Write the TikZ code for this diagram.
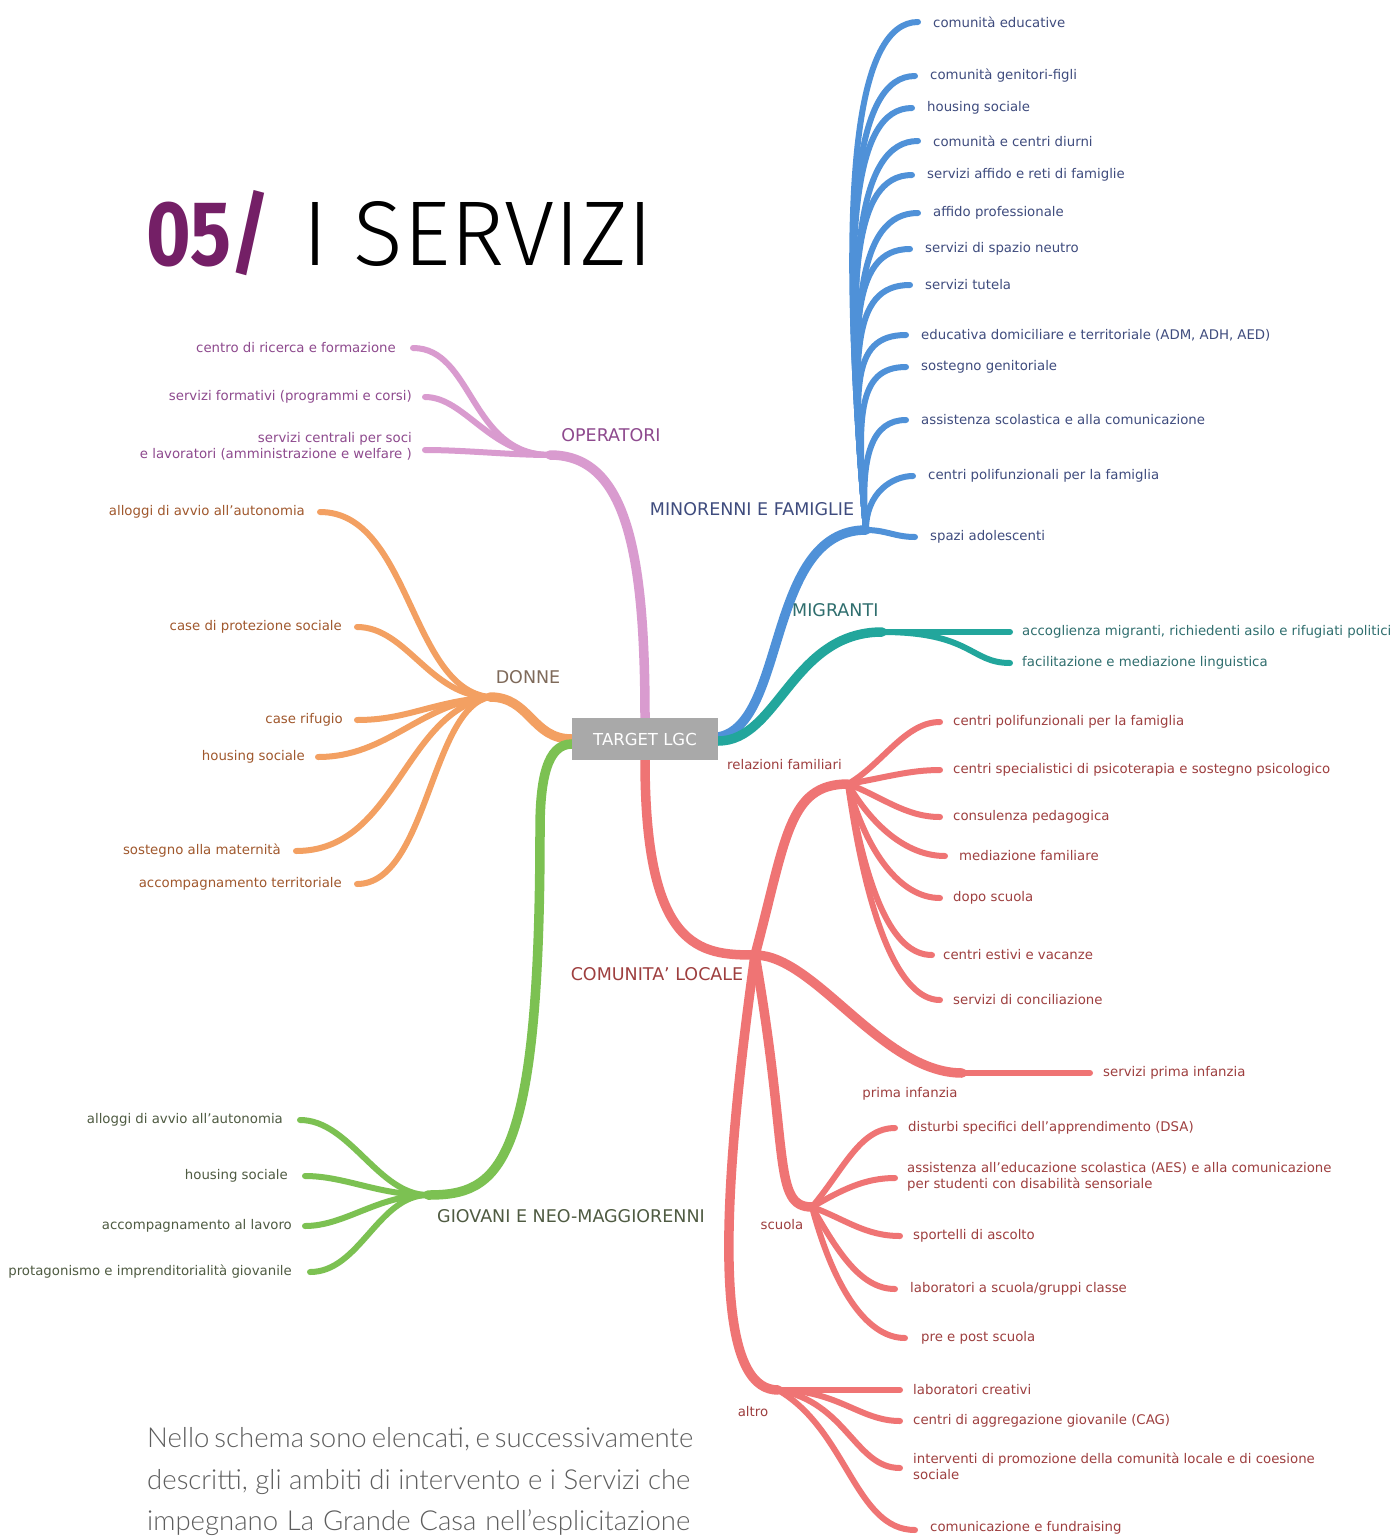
\documentclass[tikz,border=0pt]{standalone}
\usepackage{fontspec}
\setmainfont{DejaVu Sans}
\newfontfamily\titlefont{Fira Sans}
\IfFontExistsTF{Fira Sans Light}{\newfontfamily\titlelight{Fira Sans Light}}{\newfontfamily\titlelight{Fira Sans}}
\IfFontExistsTF{Lato Light}{\newfontfamily\captfont{Lato Light}}{\newfontfamily\captfont{Lato}}
\usetikzlibrary{calc,backgrounds}
\definecolor{cpur}{HTML}{D99BCF}
\definecolor{cblu}{HTML}{4F91D8}
\definecolor{ctea}{HTML}{22A69C}
\definecolor{cora}{HTML}{F3A062}
\definecolor{cred}{HTML}{EF7474}
\definecolor{cgre}{HTML}{7CC152}
\definecolor{tpur}{HTML}{8E4A8E}
\definecolor{tblu}{HTML}{3F4C7E}
\definecolor{ttea}{HTML}{2F6E6E}
\definecolor{tora}{HTML}{A0582D}
\definecolor{tred}{HTML}{9E3F3F}
\definecolor{tgre}{HTML}{4F5B42}
\definecolor{tdon}{HTML}{7F6A5A}
\definecolor{cbox}{HTML}{A9A9A9}
\definecolor{ctitle}{HTML}{741F66}
\definecolor{ccap}{HTML}{5E5E5E}
\newlength\capw
\begin{document}
\settowidth{\capw}{\captfont\fontsize{27}{27}\selectfont descritti, gli ambiti di intervento e i Servizi che}
\begin{tikzpicture}[x=1pt,y=1pt,
  twig/.style={line width=6pt,line cap=round},
  trunk/.style={line width=9.5pt,line cap=round},
  lf/.style={inner sep=0pt,font=\fontsize{13.3}{16}\selectfont},
  ct/.style={inner sep=0pt,font=\fontsize{17.5}{19}\selectfont},
  captext/.style={anchor=base west,inner sep=0pt,text=ccap,font=\captfont\fontsize{27}{27}\selectfont}]
\useasboundingbox (0,0) rectangle (1394,-1537);

% ---------- title ----------
\node[anchor=base west,inner sep=0pt,text=ctitle,font=\titlefont\bfseries\fontsize{92}{92}\selectfont] (num) at (146,-265) {\scalebox{0.83}[1]{05/}};
\node[anchor=base west,inner sep=0pt,font=\titlelight\fontsize{92}{92}\selectfont] (ttl) at (302,-265) {I SERVIZI};

% ---------- caption ----------
\node[captext] (cap1) at (147,-1447) {\resizebox{543pt}{!}{\makebox[\capw][s]{Nello schema sono elencati, e successivamente}}};
\node[captext] (cap2) at (147,-1489) {\resizebox{543pt}{!}{\makebox[\capw][s]{descritti, gli ambiti di intervento e i Servizi che}}};
\node[captext] (cap3) at (147,-1530) {\resizebox{543pt}{!}{\makebox[\capw][s]{impegnano La Grande Casa nell’esplicitazione}}};

% ---------- centre ----------
\node[fill=cbox,text=white,minimum width=146pt,minimum height=42pt,inner sep=0pt,font=\fontsize{16.5}{17}\selectfont] (T) at (645,-739) {TARGET LGC};

% ---------- junctions ----------
\coordinate (OP) at (550,-455);
\coordinate (MF) at (866,-530);
\coordinate (MI) at (882,-632);
\coordinate (DO) at (490,-697);
\coordinate (GI) at (428,-1195);
\coordinate (gk) at (540,-830);
\coordinate (CL) at (755,-955);
\coordinate (RF) at (848,-784);
\coordinate (PI) at (962,-1073);
\coordinate (SC) at (812,-1207);
\coordinate (AL) at (778,-1390);

% ---------- leaf ends ----------
\coordinate (b1) at (918,-22);  \coordinate (b2) at (915,-76);
\coordinate (b3) at (912,-108); \coordinate (b4) at (918,-141);
\coordinate (b5) at (912,-175); \coordinate (b6) at (918,-213);
\coordinate (b7) at (910,-249); \coordinate (b8) at (910,-285);
\coordinate (b9) at (906,-335); \coordinate (b10) at (906,-367);
\coordinate (b11) at (906,-420); \coordinate (b12) at (913,-476);
\coordinate (b13) at (915,-537);
\coordinate (m1) at (1010,-632); \coordinate (m2) at (1010,-663);
\coordinate (p1) at (413,-348); \coordinate (p2) at (425,-397); \coordinate (p3) at (425,-450);
\coordinate (o1) at (320,-512); \coordinate (o2) at (357,-627); \coordinate (o3) at (357,-720);
\coordinate (o4) at (318,-757); \coordinate (o5) at (296,-851); \coordinate (o6) at (357,-884);
\coordinate (g1) at (300,-1120); \coordinate (g2) at (305,-1176);
\coordinate (g3) at (305,-1226); \coordinate (g4) at (310,-1272);
\coordinate (r1) at (940,-722); \coordinate (r2) at (940,-770); \coordinate (r3) at (940,-817);
\coordinate (r4) at (945,-856); \coordinate (r5) at (940,-898); \coordinate (r6) at (932,-955);
\coordinate (r7) at (940,-1000);
\coordinate (pi1) at (1090,-1073);
\coordinate (s1) at (895,-1128); \coordinate (s2) at (895,-1178); \coordinate (s3) at (900,-1236);
\coordinate (s4) at (895,-1289); \coordinate (s5) at (905,-1338);
\coordinate (a1) at (900,-1390); \coordinate (a2) at (900,-1421);
\coordinate (a3) at (900,-1468); \coordinate (a4) at (915,-1530);

% ---------- category labels ----------
\node[ct,text=tpur] (lOP) at (611,-435) {OPERATORI};
\node[ct,text=tblu] (lMF) at (752,-509) {MINORENNI E FAMIGLIE};
\node[ct,text=ttea,anchor=west] (lMI) at (792,-610) {MIGRANTI};
\node[ct,text=tdon] (lDO) at (528,-677) {DONNE};
\node[ct,text=tred] (lCL) at (657,-974) {COMUNITA' LOCALE};
\node[ct,text=tgre] (lGI) at (571,-1216) {GIOVANI E NEO-MAGGIORENNI};
\node[lf,text=tred,anchor=west] (lRF) at (727,-765) {relazioni familiari};
\node[lf,text=tred] (lPI) at (910,-1094) {prima infanzia};
\node[lf,text=tred] (lSC) at (782,-1225) {scuola};
\node[lf,text=tred] (lAL) at (753,-1412) {altro};

% ---------- leaf labels ----------
\begin{scope}[every node/.style={lf,anchor=west,text=tblu}]
\node (lb1) at (933,-22) {comunità educative};
\node (lb2) at (930,-76) {comunità genitori-figli};
\node (lb3) at (927,-108) {housing sociale};
\node (lb4) at (933,-141) {comunità e centri diurni};
\node (lb5) at (927,-175) {servizi affido e reti di famiglie};
\node (lb6) at (933,-213) {affido professionale};
\node (lb7) at (925,-249) {servizi di spazio neutro};
\node (lb8) at (925,-285) {servizi tutela};
\node (lb9) at (921,-335) {educativa domiciliare e territoriale (ADM, ADH, AED)};
\node (lb10) at (921,-367) {sostegno genitoriale};
\node (lb11) at (921,-420) {assistenza scolastica e alla comunicazione};
\node (lb12) at (928,-476) {centri polifunzionali per la famiglia};
\node (lb13) at (930,-537) {spazi adolescenti};
\end{scope}
\begin{scope}[every node/.style={lf,anchor=west,text=ttea}]
\node (lm1) at (1022,-632) {accoglienza migranti, richiedenti asilo e rifugiati politici};
\node (lm2) at (1022,-663) {facilitazione e mediazione linguistica};
\end{scope}
\begin{scope}[every node/.style={lf,anchor=east,text=tpur,align=right}]
\node (lp1) at (396,-348) {centro di ricerca e formazione};
\node (lp2) at (412,-397) {servizi formativi (programmi e corsi)};
\node (lp3) at (412,-446) {servizi centrali per soci\\e lavoratori (amministrazione e welfare )};
\end{scope}
\begin{scope}[every node/.style={lf,anchor=east,text=tora}]
\node (lo1) at (305,-512) {alloggi di avvio all'autonomia};
\node (lo2) at (342,-627) {case di protezione sociale};
\node (lo3) at (343,-720) {case rifugio};
\node (lo4) at (305,-757) {housing sociale};
\node (lo5) at (281,-851) {sostegno alla maternità};
\node (lo6) at (342,-884) {accompagnamento territoriale};
\end{scope}
\begin{scope}[every node/.style={lf,anchor=east,text=tgre}]
\node (lg1) at (283,-1120) {alloggi di avvio all'autonomia};
\node (lg2) at (288,-1176) {housing sociale};
\node (lg3) at (292,-1226) {accompagnamento al lavoro};
\node (lg4) at (292,-1272) {protagonismo e imprenditorialità giovanile};
\end{scope}
\begin{scope}[every node/.style={lf,anchor=west,text=tred,align=left}]
\node (lr1) at (953,-722) {centri polifunzionali per la famiglia};
\node (lr2) at (953,-770) {centri specialistici di psicoterapia e sostegno psicologico};
\node (lr3) at (953,-817) {consulenza pedagogica};
\node (lr4) at (959,-856) {mediazione familiare};
\node (lr5) at (953,-898) {dopo scuola};
\node (lr6) at (943,-955) {centri estivi e vacanze};
\node (lr7) at (953,-1000) {servizi di conciliazione};
\node (lpi1) at (1103,-1073) {servizi prima infanzia};
\node (ls1) at (908,-1128) {disturbi specifici dell'apprendimento (DSA)};
\node (ls2) at (907,-1177) {assistenza all'educazione scolastica (AES) e alla comunicazione\\per studenti con disabilità sensoriale};
\node (ls3) at (913,-1236) {sportelli di ascolto};
\node (ls4) at (910,-1289) {laboratori a scuola/gruppi classe};
\node (ls5) at (921,-1338) {pre e post scuola};
\node (la1) at (913,-1390) {laboratori creativi};
\node (la2) at (913,-1421) {centri di aggregazione giovanile (CAG)};
\node (la3) at (913,-1466) {interventi di promozione della comunità locale e di coesione\\sociale};
\node (la4) at (930,-1528) {comunicazione e fundraising};
\end{scope}

% ---------- connectors ----------
\begin{pgfonlayer}{background}
\fill[white] (0,0) rectangle (1394,-1537);
% purple
\draw[trunk,cpur] (T.north) .. controls +(90:170) and +(0:75) .. (OP);
\draw[twig,cpur] (OP) .. controls +(180:80) and +(0:60) .. (p1);
\draw[twig,cpur] (OP) .. controls +(180:60) and +(0:40) .. (p2);
\draw[twig,cpur] (OP) .. controls +(180:40) and +(0:40) .. (p3);
% blue
\draw[trunk,cblu] ($(T.east)+(0,2)$) .. controls +(10:70) and +(180:100) .. (MF);
\draw[twig,cblu] (MF) .. controls +(95:356) and +(180:60) .. (b1);
\draw[twig,cblu] (MF) .. controls +(95:318) and +(180:60) .. (b2);
\draw[twig,cblu] (MF) .. controls +(95:295) and +(180:60) .. (b3);
\draw[twig,cblu] (MF) .. controls +(95:272) and +(180:60) .. (b4);
\draw[twig,cblu] (MF) .. controls +(95:249) and +(180:60) .. (b5);
\draw[twig,cblu] (MF) .. controls +(95:222) and +(180:60) .. (b6);
\draw[twig,cblu] (MF) .. controls +(95:197) and +(180:60) .. (b7);
\draw[twig,cblu] (MF) .. controls +(95:172) and +(180:60) .. (b8);
\draw[twig,cblu] (MF) .. controls +(95:137) and +(180:58) .. (b9);
\draw[twig,cblu] (MF) .. controls +(95:114) and +(180:49) .. (b10);
\draw[twig,cblu] (MF) .. controls +(95:77) and +(180:33) .. (b11);
\draw[twig,cblu] (MF) .. controls +(90:38) and +(180:20) .. (b12);
\draw[twig,cblu] (MF) .. controls +(0:20) and +(180:20) .. (b13);
% teal
\draw[trunk,ctea] ($(T.east)+(0,-2)$) .. controls +(0:60) and +(180:90) .. (MI);
\draw[twig,ctea] (MI) -- (m1);
\draw[twig,ctea] (MI) .. controls +(0:90) and +(180:40) .. (m2);
% orange
\draw[trunk,cora] (T.west) .. controls +(180:40) and +(0:40) .. (DO);
\draw[twig,cora] (DO) .. controls +(175:80) and +(0:90) .. (o1);
\draw[twig,cora] (DO) .. controls +(180:60) and +(0:50) .. (o2);
\draw[twig,cora] (DO) .. controls +(185:60) and +(0:50) .. (o3);
\draw[twig,cora] (DO) .. controls +(185:70) and +(0:70) .. (o4);
\draw[twig,cora] (DO) .. controls +(190:88) and +(0:100) .. (o5);
\draw[twig,cora] (DO) .. controls +(190:60) and +(0:70) .. (o6);
% green
\draw[trunk,cgre] ($(T.west)+(0,-5)$) .. controls +(180:25) and +(90:50) .. (gk) .. controls +(270:340) and +(0:70) .. (GI);
\draw[twig,cgre] (GI) .. controls +(180:50) and +(0:50) .. (g1);
\draw[twig,cgre] (GI) .. controls +(180:50) and +(0:40) .. (g2);
\draw[twig,cgre] (GI) .. controls +(180:50) and +(0:40) .. (g3);
\draw[twig,cgre] (GI) .. controls +(180:50) and +(0:50) .. (g4);
% red
\draw[trunk,cred] (T.south) .. controls +(270:190) and +(180:55) .. (CL);
\draw[trunk,cred] (CL) .. controls +(75:120) and +(180:60) .. (RF);
\draw[trunk,cred] (CL) .. controls +(0:60) and +(180:80) .. (PI);
\draw[trunk,cred] (CL) .. controls +(280:200) and +(180:40) .. (SC);
\draw[trunk,cred] (CL) .. controls +(262:330) and +(180:50) .. (AL);
\draw[twig,cred] (RF) .. controls +(30:40) and +(180:35) .. (r1);
\draw[twig,cred] (RF) .. controls +(10:40) and +(180:30) .. (r2);
\draw[twig,cred] (RF) .. controls +(-20:35) and +(180:35) .. (r3);
\draw[twig,cred] (RF) .. controls +(-60:45) and +(180:40) .. (r4);
\draw[twig,cred] (RF) .. controls +(-75:70) and +(180:40) .. (r5);
\draw[twig,cred] (RF) .. controls +(-80:110) and +(180:40) .. (r6);
\draw[twig,cred] (RF) .. controls +(-82:140) and +(180:40) .. (r7);
\draw[twig,cred] (PI) -- (pi1);
\draw[twig,cred] (SC) .. controls +(50:50) and +(180:35) .. (s1);
\draw[twig,cred] (SC) .. controls +(30:35) and +(180:30) .. (s2);
\draw[twig,cred] (SC) .. controls +(-20:35) and +(180:35) .. (s3);
\draw[twig,cred] (SC) .. controls +(-60:50) and +(180:35) .. (s4);
\draw[twig,cred] (SC) .. controls +(-75:80) and +(180:40) .. (s5);
\draw[twig,cred] (AL) -- (a1);
\draw[twig,cred] (AL) .. controls +(0:60) and +(180:40) .. (a2);
\draw[twig,cred] (AL) .. controls +(-10:70) and +(180:45) .. (a3);
\draw[twig,cred] (AL) .. controls +(-30:80) and +(180:60) .. (a4);
\end{pgfonlayer}
\end{tikzpicture}
\end{document}
